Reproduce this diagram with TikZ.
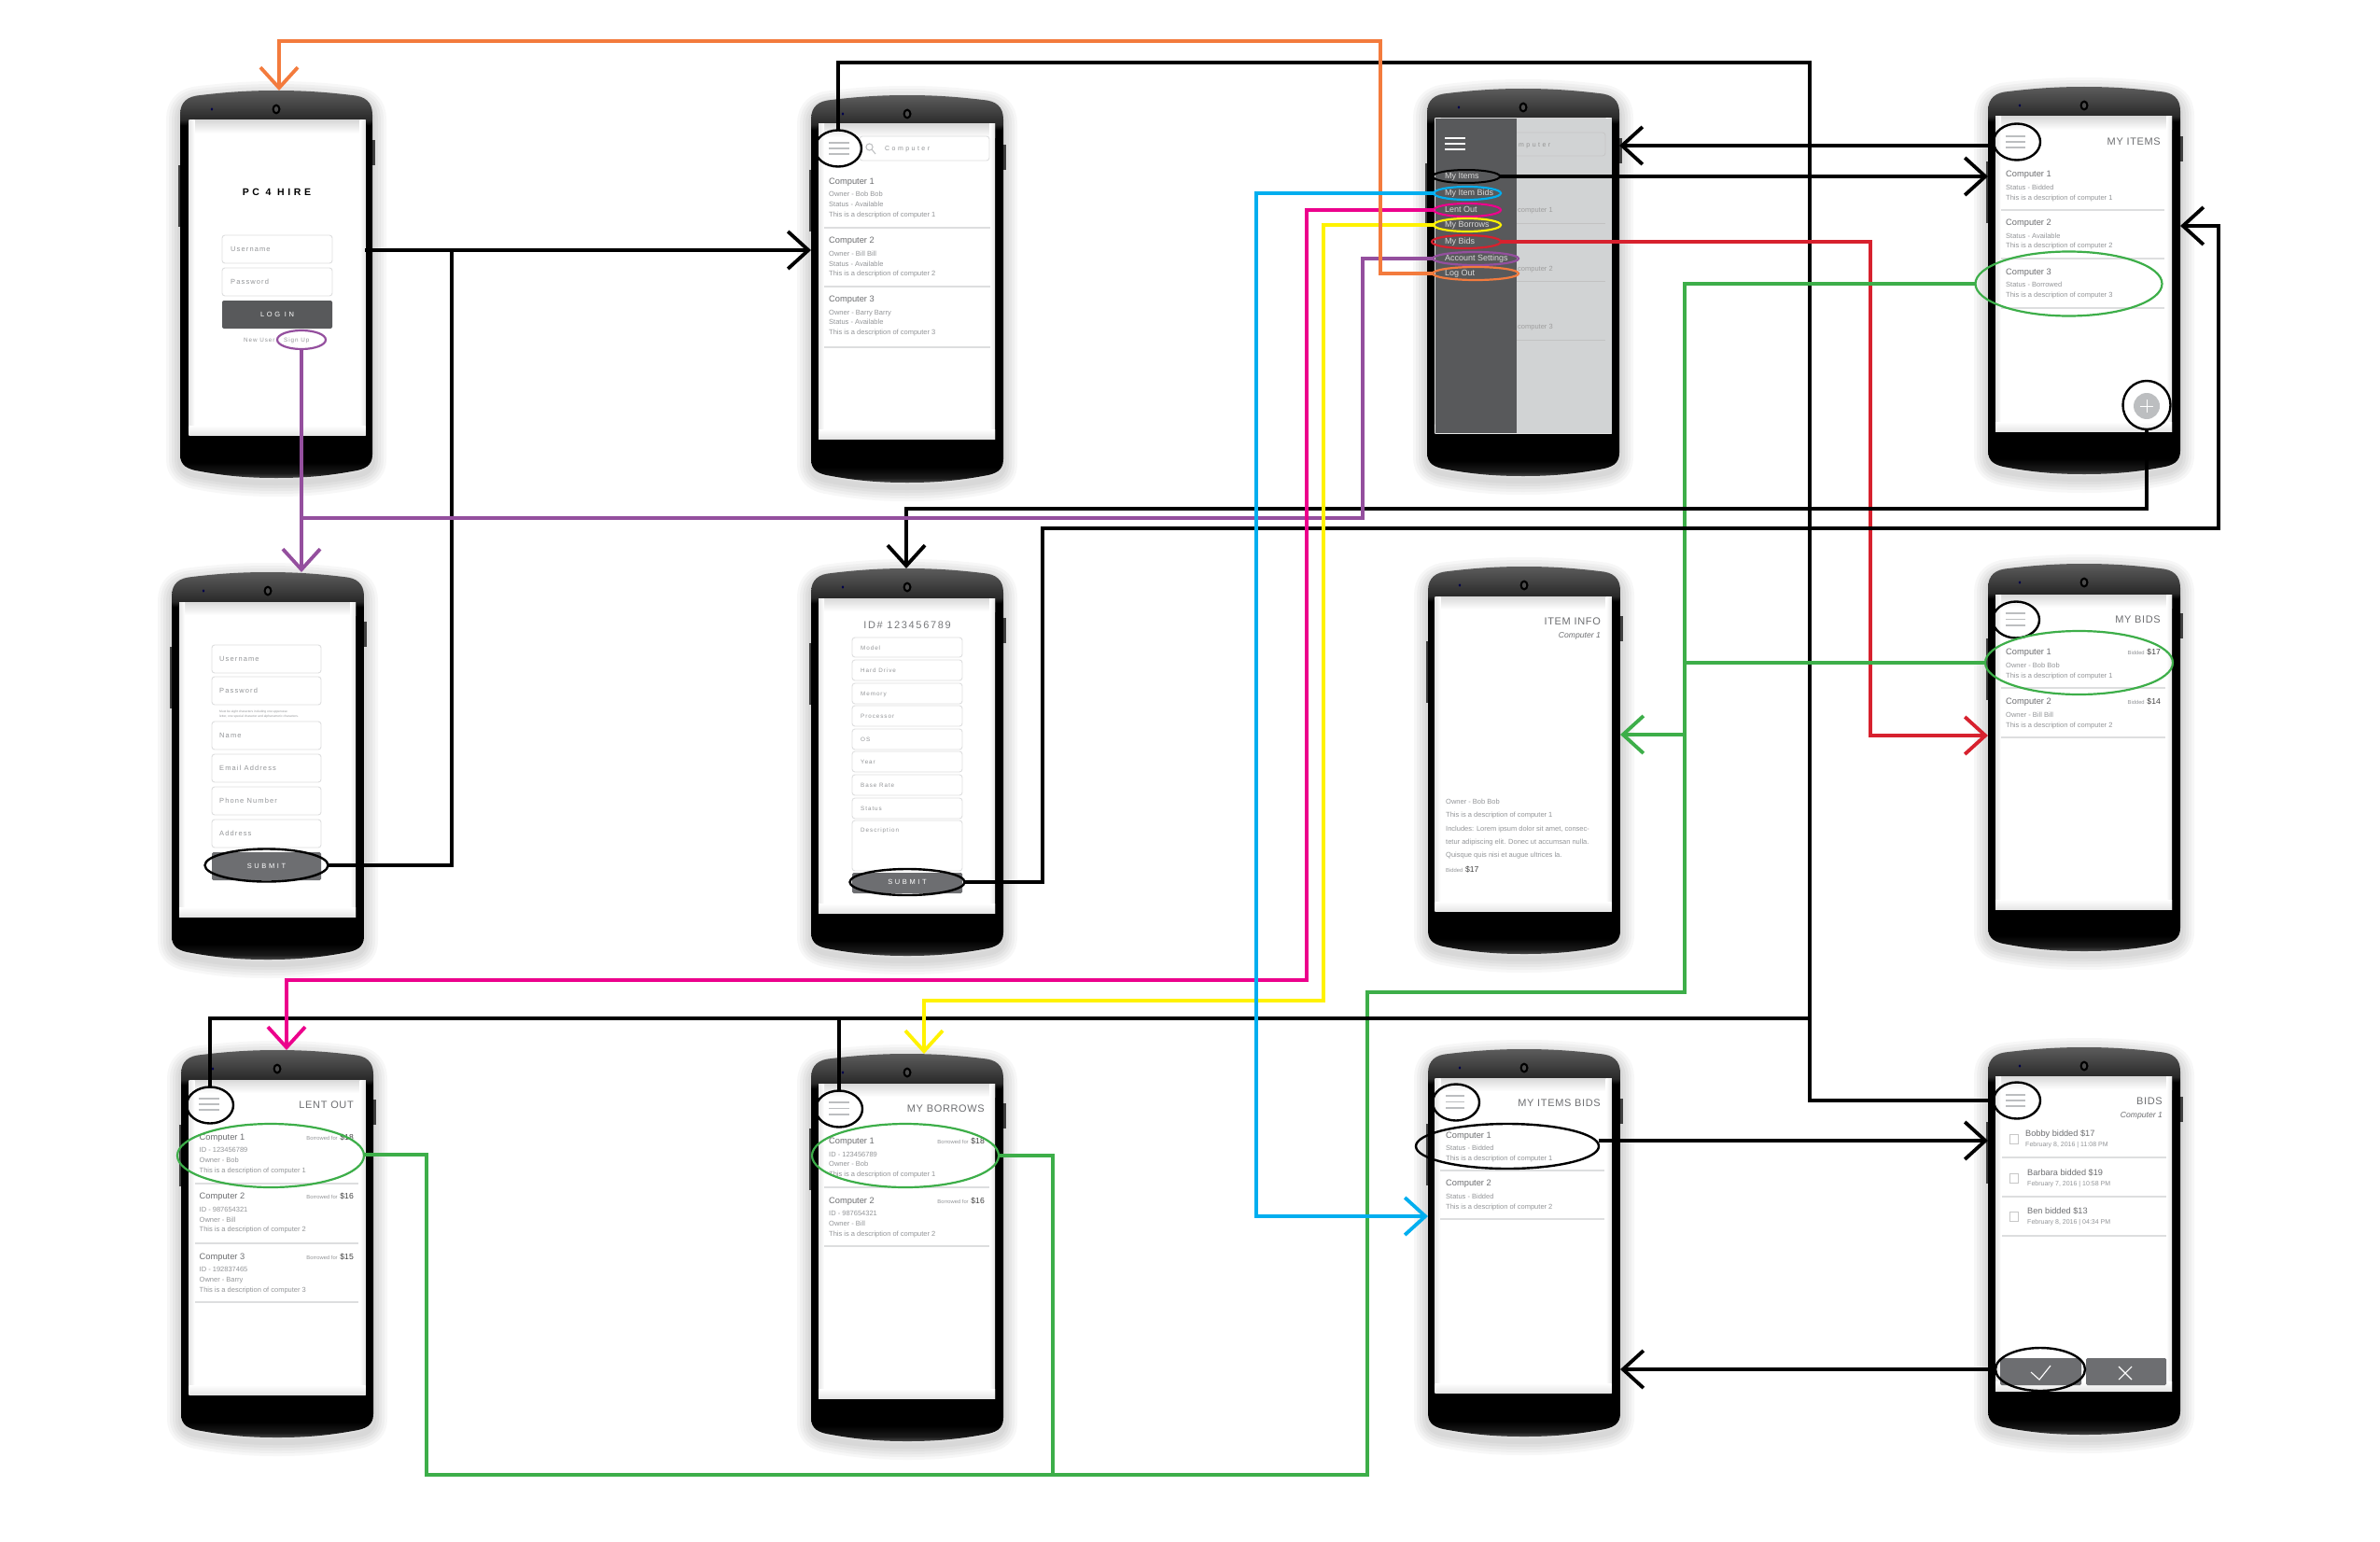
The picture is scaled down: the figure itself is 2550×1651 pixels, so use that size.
\documentclass[tikz,border=0pt]{standalone}
\usepackage{fontspec}
\setmainfont{Liberation Sans}
\newfontfamily\spacedfont[LetterSpace=15]{Liberation Sans}
\newfontfamily\widefont[LetterSpace=35]{Liberation Sans}
\newfontfamily\headfont[LetterSpace=6]{Liberation Sans}
\usetikzlibrary{shapes.geometric,arrows.meta,calc}
\definecolor{cOrange}{HTML}{F37B3D}
\definecolor{cCyan}{HTML}{00AEEF}
\definecolor{cMagenta}{HTML}{EC008C}
\definecolor{cYellow}{HTML}{FFF200}
\definecolor{cRed}{HTML}{D7212E}
\definecolor{cPurple}{HTML}{944F9E}
\definecolor{cGreen}{HTML}{3DAE49}
\definecolor{cPanel}{HTML}{58595B}
\definecolor{cBtn}{HTML}{6D6E71}
\definecolor{cTitle}{HTML}{6D6E71}
\definecolor{cSub}{HTML}{939598}
\definecolor{cLine}{HTML}{DDDEDF}
\definecolor{cBurger}{HTML}{BCBEC0}
\definecolor{cScrim}{HTML}{D1D3D4}
\pgfdeclareverticalshading{phonebody}{100bp}{color(0bp)=(black!72); color(25bp)=(black!72); color(25.6bp)=(black!90); color(27bp)=(black); color(70.5bp)=(black); color(71.2bp)=(black!84); color(73bp)=(black!74); color(75bp)=(black!64); color(100bp)=(black!64)}
\newcounter{tn}
\newcommand\T[4]{\stepcounter{tn}\node[#1] (t\arabic{tn}) at (#2,#3) {#4};}
\newcommand\price[2]{{\fontsize{5.8}{7}\selectfont\color{cSub}#1} {\fontsize{8.6}{10}\selectfont\color{black!75}#2}}
\def\bodypath{(0,26) .. controls (0,12) and (8,6) .. (22,5) .. controls (55,1) and (80,0) .. (103,0) .. controls (126,0) and (151,1) .. (184,5) .. controls (198,6) and (206,12) .. (206,26) -- (206,390) .. controls (206,402) and (198,406) .. (184,408) .. controls (151,414) and (126,415) .. (103,415) .. controls (80,415) and (55,414) .. (22,408) .. controls (8,406) and (0,402) .. (0,390) -- cycle}
% name, body x, body y, screen x, screen y
\newcommand\phone[5]{%
  \begin{scope}[shift={(#2,#3)}]
    \begin{scope}[yshift=-5pt]
    \foreach \w in {30,24,18,12,6}{\draw[line width=\w pt,black,opacity=.03,line join=round] \bodypath;}
    \end{scope}
    \fill[black!75] (-2,80) rectangle (1,146);
    \fill[black!75] (205,53) rectangle (208.5,80);
    \shade[shading=phonebody] \bodypath;
    \fill[black] (103,20) ellipse (4.5 and 5.5);
    \fill[black!70] (103,20) ellipse (2.2 and 3);
    \fill[black!70!blue] (34,20) ellipse (1.4 and 1.6);
  \end{scope}
  \node[rectangle,inner sep=0pt,outer sep=0pt,minimum width=206pt,minimum height=415pt] (#1) at ({#2+103},{#3+207.5}) {};
  \fill[white] (#4,#5) rectangle ++(189,337);
  \shade[top color=black!15,bottom color=white] (#4,#5) rectangle ++(189,14);
  \shade[left color=black!10,right color=white] (#4,#5) rectangle ++(6,337);
  \shade[left color=white,right color=black!10] ({#4+183},#5) rectangle ++(6,337);
  \shade[top color=white,bottom color=black!10] (#4,{#5+327}) rectangle ++(189,10);
}
\newcommand\burger[4]{\foreach \yy in {#3,#4,{2*#4-#3}}{\draw[line width=1.8pt,cBurger] (#1,\yy) -- (#2,\yy);}}
\newcommand\sepline[3]{\draw[line width=1.2pt,cLine] (#1,#3) -- (#2,#3);}
\newcommand\field[4]{\draw[line width=.9pt,cLine,rounded corners=3pt] (#1,#2) rectangle (#3,#4);}
\tikzset{
 txtTitle/.style={anchor=mid west,inner sep=0pt,text=cTitle,font=\fontsize{9.3}{11}\selectfont},
 txtBid/.style={anchor=mid west,inner sep=0pt,text=cTitle,font=\fontsize{9.2}{11}\selectfont},
 txtDate/.style={anchor=mid west,inner sep=0pt,text=cSub,font=\fontsize{7}{9}\selectfont},
 txtSub/.style={anchor=mid west,inner sep=0pt,text=cSub,font=\fontsize{7.5}{9}\selectfont},
 txtPrice/.style={anchor=mid east,inner sep=0pt},
 txtHead/.style={anchor=mid east,inner sep=0pt,text=cTitle,font=\headfont\fontsize{11}{13}\selectfont},
 txtItal/.style={anchor=mid east,inner sep=0pt,text=cTitle,font=\fontsize{8.6}{10}\itshape\selectfont},
 txtForm/.style={anchor=mid west,inner sep=0pt,text=cSub,font=\spacedfont\fontsize{7.5}{9}\selectfont},
 txtFormS/.style={anchor=mid west,inner sep=0pt,text=cSub,font=\spacedfont\fontsize{6.3}{8}\selectfont},
 txtSearch/.style={anchor=mid west,inner sep=0pt,text=cSub,font=\widefont\fontsize{7}{9}\selectfont},
 txtBtn/.style={anchor=mid,inner sep=0pt,text=white,font=\widefont\fontsize{7.5}{9}\selectfont},
 txtMenu/.style={anchor=mid west,inner sep=0pt,text=black!15,font=\fontsize{9}{11}\selectfont},
 txtGhost/.style={anchor=mid west,inner sep=0pt,text=black!38,font=\fontsize{7.5}{9}\selectfont},
 ovalBase/.style={shape=ellipse,inner sep=0pt,outer sep=0pt,draw,fill=none},
 ovalK/.style={ovalBase,draw=black,line width=2.4pt},
 ovalC/.style={ovalBase,draw=#1,line width=2.2pt},
 conn/.style={line width=3.8pt,line join=miter},
 arr/.style={-{Straight Barb[length=22pt,width=40pt,line width=3.8pt]}},
}
\begin{document}
\begin{tikzpicture}[x=1pt,y=-1pt]
\useasboundingbox (0,0) rectangle (2550,1651);
\fill[white] (0,0) rectangle (2550,1651);

% ---------- phones ----------
\phone{pLogin}{193}{97}{202.5}{129}
\phone{pSearch}{869}{102}{877}{133}
\phone{pMenu}{1529}{95}{1537.5}{127}
\phone{pItems}{2130}{93}{2138}{125}
\phone{pSign}{184}{613}{192}{645}
\phone{pForm}{869}{609}{877}{641}
\phone{pInfo}{1530}{607}{1537.5}{639}
\phone{pBids}{2130}{604}{2138}{637}
\phone{pLent}{194}{1125}{202.5}{1157}
\phone{pBorrow}{869}{1129}{877}{1161}
\phone{pItemBids}{1530}{1124}{1537.5}{1155}
\phone{pBidList}{2130}{1122}{2138}{1153}

% ---------- login ----------
\T{anchor=mid,inner sep=0pt,font=\widefont\bfseries\fontsize{10.5}{12}\selectfont,text=black}{296.5}{207}{PC 4 HIRE}
\field{238}{252}{356}{282}
\field{238}{287}{356}{317}
\T{txtForm}{247}{267}{Username}
\T{txtForm}{247}{302}{Password}
\fill[cPanel,rounded corners=2pt] (238,322) rectangle (356,352);
\T{txtBtn}{297}{337}{LOG IN}
\T{txtFormS}{261}{364}{New User}
\T{txtFormS}{304}{364}{Sign Up}

% ---------- search ----------
\burger{888}{910}{153}{159}
\field{921}{146}{1060}{172}
\draw[line width=1pt,cBurger] (931.5,157.5) circle (3.6);
\draw[line width=1pt,cBurger] (934,160) -- (938,165);
\T{txtSearch}{948}{159}{Computer}
\T{txtTitle}{888}{195}{Computer 1}
\T{txtSub}{888}{208}{Owner - Bob Bob}
\T{txtSub}{888}{219}{Status - Available}
\T{txtSub}{888}{230}{This is a description of computer 1}
\sepline{883}{1061}{244}
\T{txtTitle}{888}{258}{Computer 2}
\T{txtSub}{888}{272}{Owner - Bill Bill}
\T{txtSub}{888}{283}{Status - Available}
\T{txtSub}{888}{293}{This is a description of computer 2}
\sepline{883}{1061}{307}
\T{txtTitle}{888}{321}{Computer 3}
\T{txtSub}{888}{335}{Owner - Barry Barry}
\T{txtSub}{888}{345}{Status - Available}
\T{txtSub}{888}{356}{This is a description of computer 3}
\sepline{883}{1061}{372}

% ---------- menu ----------
\fill[cScrim] (1537.5,127) rectangle (1726.5,464);
\draw[line width=.9pt,black!22,rounded corners=3pt] (1600,142) rectangle (1720,167);
\T{txtSearch,text=black!42}{1627}{155}{mputer}
\T{txtGhost}{1626}{225}{computer 1}
\T{txtGhost}{1626}{288}{computer 2}
\T{txtGhost}{1626}{350}{computer 3}
\draw[line width=1pt,black!24] (1625,239) -- (1720,239) (1625,301) -- (1720,301) (1625,364) -- (1720,364);
\fill[cPanel] (1537.5,127) rectangle (1625,464);
\foreach \yy in {148,154,160}{\draw[line width=2pt,white] (1548,\yy) -- (1570,\yy);}
\T{txtMenu}{1548}{189}{My Items}
\T{txtMenu}{1548}{207}{My Item Bids}
\T{txtMenu}{1548}{225}{Lent Out}
\T{txtMenu}{1548}{241}{My Borrows}
\T{txtMenu}{1548}{259}{My Bids}
\T{txtMenu}{1548}{277}{Account Settings}
\T{txtMenu}{1548}{293}{Log Out}

% ---------- my items ----------
\burger{2149}{2170}{146}{152}
\T{txtHead}{2315}{153}{MY ITEMS}
\T{txtTitle}{2149}{187}{Computer 1}
\T{txtSub}{2149}{201}{Status - Bidded}
\T{txtSub}{2149}{212}{This is a description of computer 1}
\sepline{2144}{2319}{225}
\T{txtTitle}{2149}{239}{Computer 2}
\T{txtSub}{2149}{253}{Status - Available}
\T{txtSub}{2149}{263}{This is a description of computer 2}
\sepline{2144}{2319}{277}
\T{txtTitle}{2149}{292}{Computer 3}
\T{txtSub}{2149}{305}{Status - Borrowed}
\T{txtSub}{2149}{316}{This is a description of computer 3}
\sepline{2144}{2319}{330}
\fill[cBurger] (2300,435) circle (14);
\draw[line width=1pt,white] (2293,435) -- (2307,435) (2300,428) -- (2300,442);

% ---------- sign up ----------
\field{227}{691}{344}{721}
\field{227}{725}{344}{755}
\field{227}{773}{344}{803}
\field{227}{808}{344}{838}
\field{227}{843}{344}{873}
\field{227}{878}{344}{908}
\T{txtForm}{235}{706}{Username}
\T{txtForm}{235}{740}{Password}
\T{anchor=mid west,inner sep=0pt,text=cSub,font=\fontsize{3.3}{4}\selectfont}{235}{761}{Must be eight characters including one uppercase}
\T{anchor=mid west,inner sep=0pt,text=cSub,font=\fontsize{3.3}{4}\selectfont}{235}{766}{letter, one special character and alphanumeric characters.}
\T{txtForm}{235}{788}{Name}
\T{txtForm}{235}{823}{Email Address}
\T{txtForm}{235}{858}{Phone Number}
\T{txtForm}{235}{893}{Address}
\fill[cBtn,rounded corners=1.5pt] (227,913) rectangle (344,943);
\T{txtBtn}{285.5}{928}{SUBMIT}

% ---------- form ----------
\T{anchor=mid,inner sep=0pt,text=cSub!80!black,font=\spacedfont\fontsize{11}{13}\selectfont}{972}{671}{ID\# 123456789}
\field{913}{683}{1031}{704}
\field{913}{707}{1031}{729}
\field{913}{732}{1031}{754}
\field{913}{756}{1031}{778}
\field{913}{781}{1031}{803}
\field{913}{805}{1031}{827}
\field{913}{830}{1031}{852}
\field{913}{855}{1031}{877}
\field{913}{879}{1031}{933}
\T{txtFormS}{922}{694}{Model}
\T{txtFormS}{922}{718}{Hard Drive}
\T{txtFormS}{922}{743}{Memory}
\T{txtFormS}{922}{767}{Processor}
\T{txtFormS}{922}{792}{OS}
\T{txtFormS}{922}{816}{Year}
\T{txtFormS}{922}{841}{Base Rate}
\T{txtFormS}{922}{866}{Status}
\T{txtFormS}{922}{889}{Description}
\fill[cBtn,rounded corners=1.5pt] (913,935) rectangle (1031,957);
\T{txtBtn}{972}{945}{SUBMIT}

% ---------- item info ----------
\T{txtHead}{1715}{667}{ITEM INFO}
\T{txtItal}{1715}{681}{Computer 1}
\T{txtSub}{1549}{859}{Owner - Bob Bob}
\T{txtSub}{1549}{873}{This is a description of computer 1}
\T{txtSub}{1549}{888}{Includes: Lorem ipsum dolor sit amet, consec-}
\T{txtSub}{1549}{902}{tetur adipiscing elit. Donec ut accumsan nulla.}
\T{txtSub}{1549}{916}{Quisque quis nisi et augue ultrices la.}
\T{anchor=mid west,inner sep=0pt}{1549}{932}{\price{Bidded}{\$17}}

% ---------- my bids ----------
\burger{2149}{2170}{657}{663.5}
\T{txtHead}{2315}{665}{MY BIDS}
\T{txtTitle}{2149}{699}{Computer 1}
\T{txtPrice}{2315}{699}{\price{Bidded}{\$17}}
\T{txtSub}{2149}{713}{Owner - Bob Bob}
\T{txtSub}{2149}{724}{This is a description of computer 1}
\sepline{2144}{2320}{737}
\T{txtTitle}{2149}{752}{Computer 2}
\T{txtPrice}{2315}{752}{\price{Bidded}{\$14}}
\T{txtSub}{2149}{766}{Owner - Bill Bill}
\T{txtSub}{2149}{777}{This is a description of computer 2}
\sepline{2144}{2320}{790}

% ---------- lent out ----------
\burger{213}{235}{1177}{1183}
\T{txtHead}{379}{1185}{LENT OUT}
\T{txtTitle}{213.5}{1219}{Computer 1}
\T{txtPrice}{379}{1219}{\price{Borrowed for}{\$18}}
\T{txtSub}{213.5}{1232}{ID - 123456789}
\T{txtSub}{213.5}{1243}{Owner - Bob}
\T{txtSub}{213.5}{1254}{This is a description of computer 1}
\sepline{209}{384}{1268}
\T{txtTitle}{213.5}{1282}{Computer 2}
\T{txtPrice}{379}{1282}{\price{Borrowed for}{\$16}}
\T{txtSub}{213.5}{1296}{ID - 987654321}
\T{txtSub}{213.5}{1307}{Owner - Bill}
\T{txtSub}{213.5}{1317}{This is a description of computer 2}
\sepline{209}{384}{1332}
\T{txtTitle}{213.5}{1347}{Computer 3}
\T{txtPrice}{379}{1347}{\price{Borrowed for}{\$15}}
\T{txtSub}{213.5}{1360}{ID - 192837465}
\T{txtSub}{213.5}{1371}{Owner - Barry}
\T{txtSub}{213.5}{1382}{This is a description of computer 3}
\sepline{209}{384}{1395}

% ---------- my borrows ----------
\burger{888}{910}{1181}{1187.5}
\T{txtHead}{1055}{1189}{MY BORROWS}
\T{txtTitle}{888}{1223}{Computer 1}
\T{txtPrice}{1055}{1223}{\price{Borrowed for}{\$18}}
\T{txtSub}{888}{1237}{ID - 123456789}
\T{txtSub}{888}{1247}{Owner - Bob}
\T{txtSub}{888}{1258}{This is a description of computer 1}
\sepline{883}{1060}{1272}
\T{txtTitle}{888}{1287}{Computer 2}
\T{txtPrice}{1055}{1287}{\price{Borrowed for}{\$16}}
\T{txtSub}{888}{1300}{ID - 987654321}
\T{txtSub}{888}{1311}{Owner - Bill}
\T{txtSub}{888}{1322}{This is a description of computer 2}
\sepline{883}{1060}{1335}

% ---------- my items bids ----------
\burger{1549}{1569}{1174}{1180.5}
\T{txtHead}{1715}{1183}{MY ITEMS BIDS}
\T{txtTitle}{1549}{1217}{Computer 1}
\T{txtSub}{1549}{1230}{Status - Bidded}
\T{txtSub}{1549}{1241}{This is a description of computer 1}
\sepline{1543}{1719}{1254}
\T{txtTitle}{1549}{1268}{Computer 2}
\T{txtSub}{1549}{1282}{Status - Bidded}
\T{txtSub}{1549}{1293}{This is a description of computer 2}
\sepline{1543}{1719}{1306}

% ---------- bid list ----------
\burger{2149}{2170}{1173}{1179}
\T{txtHead}{2317}{1181}{BIDS}
\T{txtItal}{2317}{1195}{Computer 1}
\draw[line width=1pt,black!22] (2153,1215) rectangle (2162,1225);
\draw[line width=1pt,black!22] (2153,1257) rectangle (2162,1267);
\draw[line width=1pt,black!22] (2153,1298) rectangle (2162,1308);
\T{txtBid}{2170}{1215}{Bobby bidded \$17}
\T{txtDate}{2170}{1226}{February 8, 2016 | 11:08 PM}
\sepline{2145}{2321}{1240}
\T{txtBid}{2172}{1257}{Barbara bidded \$19}
\T{txtDate}{2172}{1268}{February 7, 2016 | 10:58 PM}
\sepline{2145}{2321}{1282}
\T{txtBid}{2172}{1298}{Ben bidded \$13}
\T{txtDate}{2172}{1309}{February 8, 2016 | 04:34 PM}
\sepline{2145}{2321}{1324}
\fill[cBtn,rounded corners=1.5pt] (2143,1455) rectangle (2230,1484);
\fill[cBtn,rounded corners=1.5pt] (2235,1455) rectangle (2321,1484);
\draw[line width=1.1pt,white] (2176,1470) -- (2185,1478) -- (2197,1463);
\draw[line width=1.1pt,white] (2270,1464) -- (2284,1478) (2284,1464) -- (2270,1478);

% ---------- ovals ----------
\node[ovalC=cPurple,minimum width=52pt,minimum height=20pt] (oSign) at (323,364) {};
\node[ovalK,minimum width=50pt,minimum height=39pt] (oB2) at (898,159) {};
\node[ovalK,minimum width=50pt,minimum height=39pt] (oB4) at (2161,152) {};
\node[ovalK,minimum width=50pt,minimum height=39pt] (oB8) at (2160,664) {};
\node[ovalK,minimum width=50pt,minimum height=39pt] (oB9) at (225,1184) {};
\node[ovalK,minimum width=50pt,minimum height=39pt] (oB10) at (899,1188) {};
\node[ovalK,minimum width=50pt,minimum height=39pt] (oB11) at (1560,1181) {};
\node[ovalK,minimum width=50pt,minimum height=39pt] (oB12) at (2161,1179) {};
\node[ovalK,minimum width=51pt,minimum height=52pt] (oPlus) at (2300,434) {};
\node[ovalK,minimum width=132pt,minimum height=35pt] (oSubA) at (285.5,927) {};
\node[ovalK,minimum width=123pt,minimum height=28pt] (oSubB) at (972,945) {};
\node[ovalK,minimum width=196pt,minimum height=48pt] (oK11) at (1615,1228) {};
\node[ovalK,minimum width=96pt,minimum height=46pt] (oK12) at (2186,1467) {};
\node[ovalC=cGreen,minimum width=200pt,minimum height=69pt] (oG4) at (2216.5,304) {};
\node[ovalC=cGreen,minimum width=201pt,minimum height=68pt] (oG8) at (2227.5,710) {};
\node[ovalC=cGreen,minimum width=200pt,minimum height=68pt] (oG9) at (290,1238) {};
\node[ovalC=cGreen,minimum width=200pt,minimum height=68pt] (oG10) at (970,1238) {};
\node[ovalK,line width=2pt,minimum width=72pt,minimum height=14pt] (mItems) at (1571,189) {};
\node[ovalC=cCyan,minimum width=72pt,minimum height=14pt] (mItemBids) at (1572,207) {};
\node[ovalC=cMagenta,minimum width=72pt,minimum height=14pt] (mLent) at (1572,225) {};
\node[ovalC=cYellow,minimum width=72pt,minimum height=14pt] (mBorrow) at (1572,241) {};
\node[ovalC=cRed,minimum width=74pt,minimum height=14pt] (mBids) at (1571,259) {};
\node[ovalC=cPurple,minimum width=92pt,minimum height=14pt] (mAcct) at (1581,277) {};
\node[ovalC=cOrange,minimum width=92pt,minimum height=14pt] (mLog) at (1581,293) {};

% ---------- routing points ----------
\coordinate (loginOut) at (391,268);
\coordinate (jLogin) at (484,268);
\coordinate (busTop) at (1939,67);
\coordinate (busMid) at (1939,1091);
\coordinate (cyanA) at (1346,1303);
\coordinate (magA) at (1400,1050);
\coordinate (magTip) at (307,0);
\coordinate (yelA) at (1418,1072);
\coordinate (yelTip) at (990,0);
\coordinate (redA) at (2004,788);
\coordinate (purA) at (1460,555);
\coordinate (orA) at (1479,44);
\coordinate (orTip) at (299,0);
\coordinate (grA) at (1805,1063);
\coordinate (grB) at (1465,1580);
\coordinate (grC) at (457,1237);
\coordinate (grD) at (1128,1580);
\coordinate (grE) at (1805,787);
\coordinate (plusA) at (971,545);
\coordinate (subA) at (1117,566);
\coordinate (subB) at (2377,242);

% ---------- connectors ----------
\draw[conn,arr] (loginOut) -- (pSearch.west |- loginOut);
\draw[conn] (oSubA.east) -| (jLogin);
\draw[conn] (oB2.north) |- (busTop) |- (oB12.west);
\draw[conn,arr] ([yshift=-4pt]oB4.west) -- ([yshift=-4pt]pMenu.east |- oB4.west);
\draw[conn,arr] (mItems.east) -- (pItems.west |- mItems.east);
\draw[conn,arr] ([yshift=6pt]oK11.east) -- ([yshift=6pt]pBidList.west |- oK11.east);
\draw[conn,arr] (oK12.west) -- (pItemBids.east |- oK12.west);
\draw[conn,cRed,arr] (mBids.east) -| (redA) -- (pBids.west |- redA);
\draw[conn,cGreen] (oG4.west) -| (grA) -| (grB) -| (grC) -- (oG9.east |- grC);
\draw[conn,cGreen] (oG10.east) -| (grD);
\draw[conn,cGreen] (oG8.west) -- (grA |- oG8.west);
\draw[conn,cGreen,arr] (grE) -- (pInfo.east |- grE);
\draw[conn] (oB9.north) |- (busMid);
\draw[conn] (oB10.north) |- (busMid);
\draw[conn,arr] (oPlus.south) |- (plusA) -- (plusA |- pForm.north);
\draw[conn,arr] (oSubB.east) -| (subA) -| (subB) -- (pItems.east |- subB);
\draw[conn,cPurple,arr] (oSign.south) -- (oSign.south |- pSign.north);
\draw[conn,cPurple] (mAcct.west) -| (purA) -- (oSign.south |- purA);
\draw[conn,cMagenta,arr] (mLent.west) -| (magA) -| (magTip |- pLent.north);
\draw[conn,cYellow,arr] (mBorrow.west) -| (yelA) -| (yelTip |- pBorrow.north);
\draw[conn,cOrange,arr] (mLog.west) -| (orA) -| (orTip |- pLogin.north);
\draw[conn,cCyan,arr] (mItemBids.west) -| (cyanA) -- (pItemBids.west |- cyanA);
\end{tikzpicture}
\end{document}
